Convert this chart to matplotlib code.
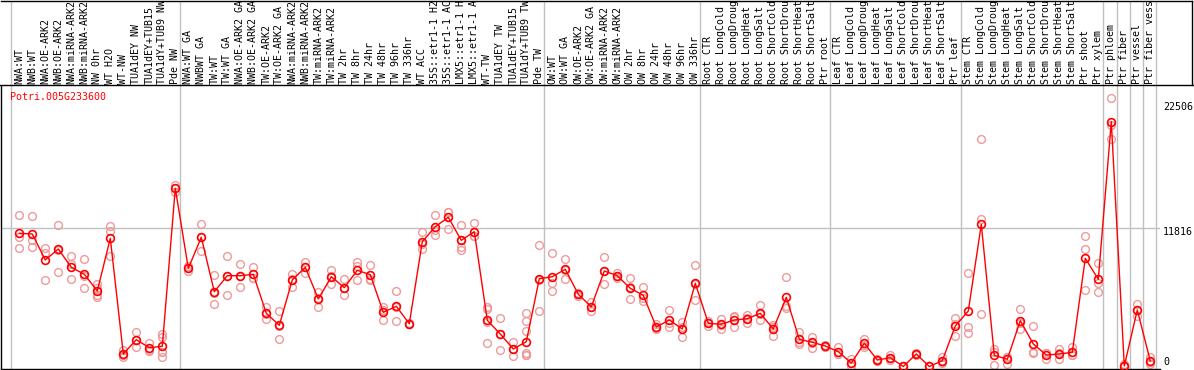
import matplotlib
matplotlib.use('Agg')
import matplotlib.pyplot as plt
from matplotlib.lines import Line2D
import matplotlib.transforms as mtransforms

# ---------------- data ----------------
gene_name = "Potri.005G233600"

samples = [
    "NWA:WT", "NWB:WT", "NWA:OE-ARK2", "NWB:OE-ARK2", "NWA:miRNA-ARK2", "NWB:miRNA-ARK2",
    "NW 0hr", "WT H2O", "WT-NW", "TUA1dEY NW", "TUA1dEY+TUB15", "TUA1dY+TUB9 NW", "Pde NW",
    "NWA:WT GA", "NWBWT GA", "TW:WT", "TW:WT GA", "NWA:OE-ARK2 GA", "NWB:OE-ARK2 GA",
    "TW:OE-ARK2", "TW:OE-ARK2 GA", "NWA:miRNA-ARK2", "NWB:miRNA-ARK2", "TW:miRNA-ARK2",
    "TW:miRNA-ARK2", "TW 2hr", "TW 8hr", "TW 24hr", "TW 48hr", "TW 96hr", "TW 336hr",
    "WT ACC", "35S::etr1-1 H2O", "35S::etr1-1 ACC", "LMX5::etr1-1 H2O", "LMX5::etr1-1 ACC",
    "WT-TW", "TUA1dEY TW", "TUA1dEY+TUB15", "TUA1dY+TUB9 TW", "Pde TW",
    "OW:WT", "OW:WT GA", "OW:OE-ARK2", "OW:OE-ARK2 GA", "OW:miRNA-ARK2", "OW:miRNA-ARK2",
    "OW 2hr", "OW 8hr", "OW 24hr", "OW 48hr", "OW 96hr", "OW 336hr",
    "Root CTR", "Root LongCold", "Root LongDrought", "Root LongHeat", "Root LongSalt",
    "Root ShortCold", "Root ShortDrought", "Root ShortHeat", "Root ShortSalt", "Ptr root",
    "Leaf CTR", "Leaf LongCold", "Leaf LongDrought", "Leaf LongHeat", "Leaf LongSalt",
    "Leaf ShortCold", "Leaf ShortDrought", "Leaf ShortHeat", "Leaf ShortSalt", "Ptr leaf",
    "Stem CTR", "Stem LongCold", "Stem LongDrought", "Stem LongHeat", "Stem LongSalt",
    "Stem ShortCold", "Stem ShortDrought", "Stem ShortHeat", "Stem ShortSalt", "Ptr shoot",
    "Ptr xylem", "Ptr phloem", "Ptr fiber", "Ptr vessel", "Ptr fiber vessel",
]

mean_values = [
    11391, 11332, 9108, 10049, 8484, 7885, 6457, 10964, 1069, 2292, 1608, 1727, 15240,
    8398, 11049, 6397, 7765, 7765, 7885, 4550, 3523, 7398, 8484, 5773, 7680, 6742, 8227,
    7851, 4635, 5148, 3660,
    10674, 11956, 12760, 10793, 11528, 3951, 2779, 1497, 2121, 7500,
    7680, 8313, 6172, 5100, 8167, 7765, 6688, 6087, 3378, 3977, 3207, 7112,
    3694, 3609, 3977, 4088, 4550, 3207, 5916, 2326, 2070, 1753,
    1266, 299, 1984, 556, 753, 0, 1069, 0, 496, 3464,
    4747, 12161, 958, 616, 3917, 1924, 983, 1069, 1214, 9253,
    7457, 20936, 43, 4832, 470,
]

replicate_values = [
    [12957, 11107, 10109], [12871, 10818, 10195], [10166, 9736, 7398], [12102, 8056, 9990],
    [9450, 8766, 7484], [9193, 6714, 7750], [7056, 6115, 5916, 6740], [12016, 11614, 9450],
    [1411, 787, 1010], [2950, 1642, 2290], [2035, 1351, 1440], [2779, 2549, 1214, 838, 1255],
    [15522, 15240, 14960],
    [8193, 8398, 8600], [12187, 9879, 11080], [7825, 5320, 6260], [9450, 6087, 7760],
    [8766, 6771, 7760], [8484, 7594, 7580], [5114, 4037, 4500], [4747, 2352, 3470],
    [7911, 6828, 7450], [8937, 8022, 8490], [6397, 5062, 5860], [8253, 7081, 7700],
    [7457, 6087, 6680], [8937, 8595, 7398], [8680, 7457, 7420], [5089, 3980, 4840],
    [6457, 3866, 5120], [3660, 3600, 3720],
    [11528, 10049, 10450], [12957, 11220, 11690], [13239, 11785, 13250],
    [12076, 10252, 9989, 10850], [12247, 11163, 11170], [5114, 4892, 1984, 3800],
    [4148, 1385, 2800], [2070, 924, 1500], [4550, 3866, 3010, 1129, 983, 1020],
    [10391, 4747, 7360],
    [9681, 7112, 6457], [9164, 7484, 8290], [6172, 6050, 6300], [5542, 4747, 5050],
    [9336, 7028, 8140], [7971, 7765, 7560], [7543, 5747, 6770], [6828, 5602, 5830],
    [3635, 3200, 3300], [4832, 3404, 3700], [3780, 2497, 3340], [8655, 5662, 7020],
    [3464, 3694, 3920], [4088, 3233, 3510], [4319, 3404, 4200], [4404, 3694, 4170],
    [5234, 3951, 4460], [3575, 2634, 3410], [7628, 4977, 5140], [2950, 1899, 2130],
    [2549, 1608, 2050], [1753, 1650, 1850],
    [1693, 1050, 1060], [616, 0, 280], [2377, 1693, 1880], [556, 480, 630],
    [983, 753, 520], [0, 60, 20], [1069, 1000, 1130], [0, 40, 10], [787, 420, 280],
    [4122, 2634, 3640],
    [7971, 3404, 2839], [19431, 12589, 4464], [1522, 103, 1250], [787, 214, 850],
    [4892, 3181, 3680], [3438, 1129, 1210], [1180, 616, 1150], [1471, 616, 1120],
    [1693, 983, 970], [11163, 10049, 6543],
    [8852, 6371, 7150], [22937, 20654, 19431], [200, 0, 0], [5345, 4319, 4830],
    [787, 214, 410],
]

group_boundaries = [-0.66, 12.38, 40.38, 52.38, 62.4, 72.4, 83.38, 84.4, 85.4, 86.4, 87.4]
right_ticks = [0, 11816, 22506]
gridline_values = [11816]

# ---------------- layout ----------------
W, H = 1194, 370
fig = plt.figure(figsize=(W / 100, H / 100), dpi=100)


def px_box(x0, y0, x1, y1):
    return [x0 / W, (H - y1) / H, (x1 - x0) / W, (y1 - y0) / H]


STEP = 13.0
X0 = 19.3  # pixel of first column
ax = fig.add_axes(px_box(1, 85, 1160, 369))
lab = fig.add_axes(px_box(1, 0.5, 1192, 85))
ax.set_xlim((1 - X0) / STEP, (1160 - X0) / STEP)
lab.set_xlim((1 - X0) / STEP, (1192 - X0) / STEP)
ax.set_ylim(-214, 24074)
lab.set_ylim(0, 84.5)

mono = 'DejaVu Sans Mono'
fs = 7.2
grid_c = '#c0c0c0'

for a in (ax, lab):
    a.set_xticks([])
    a.set_yticks([])
    for b in group_boundaries:
        a.axvline(b, color=grid_c, lw=1.0, zorder=0)

for v in gridline_values:
    ax.axhline(v, color=grid_c, lw=1.0, zorder=0)

ax.spines['top'].set_visible(False)
ax.spines['right'].set_visible(False)
for s in ('left', 'bottom'):
    ax.spines[s].set_color('black')
    ax.spines[s].set_linewidth(1.0)

lab.spines['left'].set_visible(False)
lab.spines['bottom'].set_visible(False)
for s in ('top', 'right'):
    lab.spines[s].set_color('black')
    lab.spines[s].set_linewidth(1.0)

fig.add_artist(Line2D([0, 1], [(H - 85) / H] * 2, color='black', lw=1.0,
                      transform=fig.transFigure))

# sample labels
for i, name in enumerate(samples):
    lab.text(i, 1.5, name, rotation=90, ha='center', va='bottom', fontsize=fs,
             family=mono, color='black', clip_on=True)

# replicate points
rep_x, rep_y = [], []
for i, reps in enumerate(replicate_values):
    for r in reps:
        rep_x.append(i)
        rep_y.append(r)
ax.plot(rep_x, rep_y, linestyle='none', marker='o', ms=5.6, mfc='none',
        mec='#ee9a9a', mew=1.0, zorder=2, clip_on=False)

# mean line
xs = list(range(len(mean_values)))
ax.plot(xs, mean_values, color='red', lw=1.0, marker='o', ms=5.6, mfc='none',
        mec='red', mew=1.2, zorder=3, clip_on=False)

# gene name
ax.text(9 / 1159, 1 - 11.7 / 284, gene_name, transform=ax.transAxes, color='red',
        fontsize=fs, family=mono, ha='left', va='center')

# right-side value labels
label_offsets = [4.8, -3.4, -3.4]
blend = mtransforms.blended_transform_factory(ax.transAxes, ax.transData)
for v, off in zip(right_ticks, label_offsets):
    tr = mtransforms.offset_copy(blend, fig=fig, x=3, y=off, units='dots')
    ax.text(1.0, v, str(v), transform=tr, fontsize=fs, family=mono, ha='left',
            va='center', color='black', clip_on=False)

fig.savefig('out.png', dpi=100)
